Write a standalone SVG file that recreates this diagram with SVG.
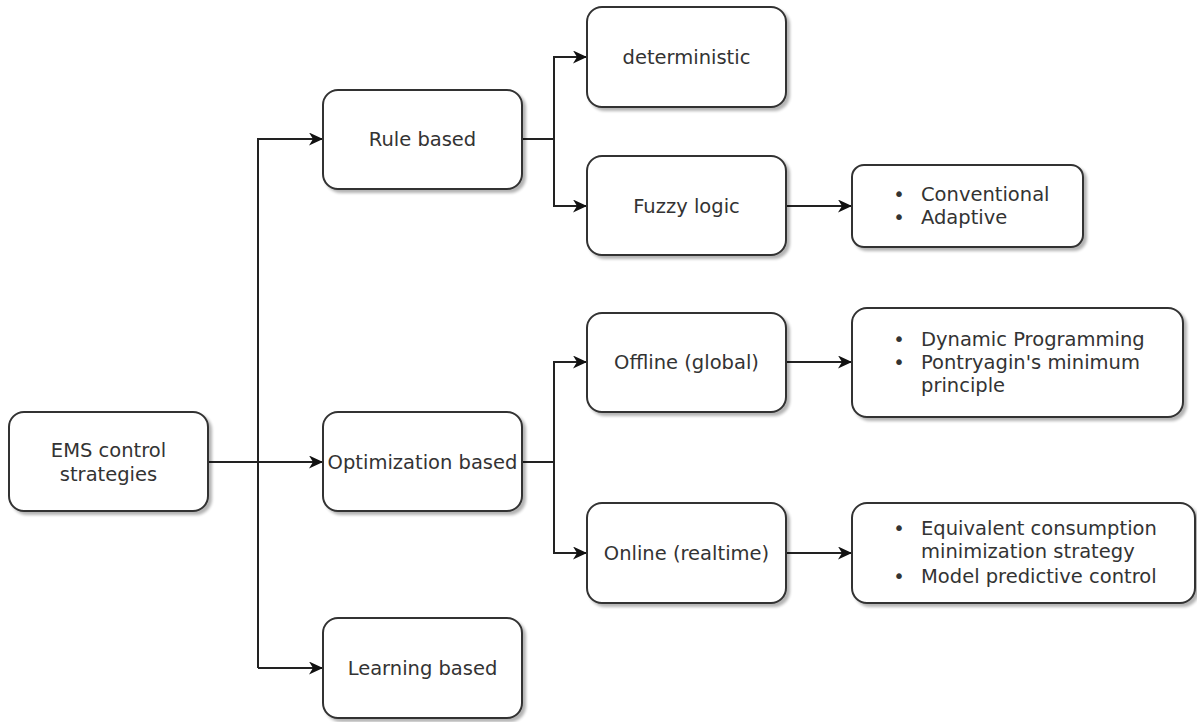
<svg xmlns="http://www.w3.org/2000/svg" width="1197" height="722" viewBox="0 0 1197 722">
<defs>
<filter id="sh" x="-10%" y="-10%" width="130%" height="130%">
<feGaussianBlur in="SourceAlpha" stdDeviation="1.5"/>
<feOffset dx="3" dy="3" result="b"/>
<feComponentTransfer><feFuncA type="linear" slope="0.3"/></feComponentTransfer>
<feMerge><feMergeNode/><feMergeNode in="SourceGraphic"/></feMerge>
</filter>
<marker id="arr" viewBox="0 0 14 13" refX="14" refY="6.5" markerWidth="14" markerHeight="13" markerUnits="userSpaceOnUse" orient="auto">
<path d="M0,0 L14,6.5 L0,13 L4,6.5 Z" fill="#111"/>
</marker>
<style>
.box{fill:#fff;stroke:#333;stroke-width:2;filter:url(#sh)}
.t{font-family:"DejaVu Sans",Verdana,sans-serif;font-size:19.5px;fill:#333}
.c{text-anchor:middle}
.ln{fill:none;stroke:#222;stroke-width:2}
.ar{marker-end:url(#arr)}
</style>
</defs>
<g id="connectors">
<path class="ln ar" d="M208,462 H323"/>
<path class="ln ar" d="M258,668 V139 H323"/>
<path class="ln ar" d="M258,668 H323"/>
<path class="ln ar" d="M522,139 H554 V57 H587"/>
<path class="ln ar" d="M554,139 V206 H587"/>
<path class="ln ar" d="M522,462 H554 V362 H587"/>
<path class="ln ar" d="M554,462 V553 H587"/>
<path class="ln ar" d="M786,206 H852"/>
<path class="ln ar" d="M786,362 H852"/>
<path class="ln ar" d="M786,553 H852"/>
</g>
<g id="ems">
<rect class="box" x="9" y="412" width="199" height="99" rx="15"/>
<text class="t c" x="108.5" y="456.5">EMS control</text>
<text class="t c" x="108.5" y="480.5">strategies</text>
</g>
<g id="rule">
<rect class="box" x="323" y="90" width="199" height="99" rx="15"/>
<text class="t c" x="422.5" y="146">Rule based</text>
</g>
<g id="optimization">
<rect class="box" x="323" y="412" width="199" height="99" rx="15"/>
<text class="t c" x="422.5" y="469">Optimization based</text>
</g>
<g id="learning">
<rect class="box" x="323" y="618" width="199" height="100" rx="15"/>
<text class="t c" x="422.5" y="675">Learning based</text>
</g>
<g id="deterministic">
<rect class="box" x="587" y="7" width="199" height="100" rx="15"/>
<text class="t c" x="686.5" y="64">deterministic</text>
</g>
<g id="fuzzy">
<rect class="box" x="587" y="156" width="199" height="99" rx="15"/>
<text class="t c" x="686.5" y="213">Fuzzy logic</text>
</g>
<g id="offline">
<rect class="box" x="587" y="313" width="199" height="99" rx="15"/>
<text class="t c" x="686.5" y="369">Offline (global)</text>
</g>
<g id="online">
<rect class="box" x="587" y="503" width="199" height="100" rx="15"/>
<text class="t c" x="686.5" y="560">Online (realtime)</text>
</g>
<g id="fuzzy-types">
<rect class="box" x="852" y="165" width="231" height="82" rx="12"/>
<text class="t c" x="899" y="201">•</text>
<text class="t" x="921" y="201">Conventional</text>
<text class="t c" x="899" y="224">•</text>
<text class="t" x="921" y="224">Adaptive</text>
</g>
<g id="offline-methods">
<rect class="box" x="852" y="308" width="331" height="109" rx="15"/>
<text class="t c" x="899" y="346">•</text>
<text class="t" x="921" y="346">Dynamic Programming</text>
<text class="t c" x="899" y="369">•</text>
<text class="t" x="921" y="369">Pontryagin's minimum</text>
<text class="t" x="921" y="392">principle</text>
</g>
<g id="online-methods">
<rect class="box" x="852" y="503" width="343" height="100" rx="15"/>
<text class="t c" x="899" y="535">•</text>
<text class="t" x="921" y="535">Equivalent consumption</text>
<text class="t" x="921" y="558">minimization strategy</text>
<text class="t c" x="899" y="583">•</text>
<text class="t" x="921" y="583">Model predictive control</text>
</g>
</svg>
